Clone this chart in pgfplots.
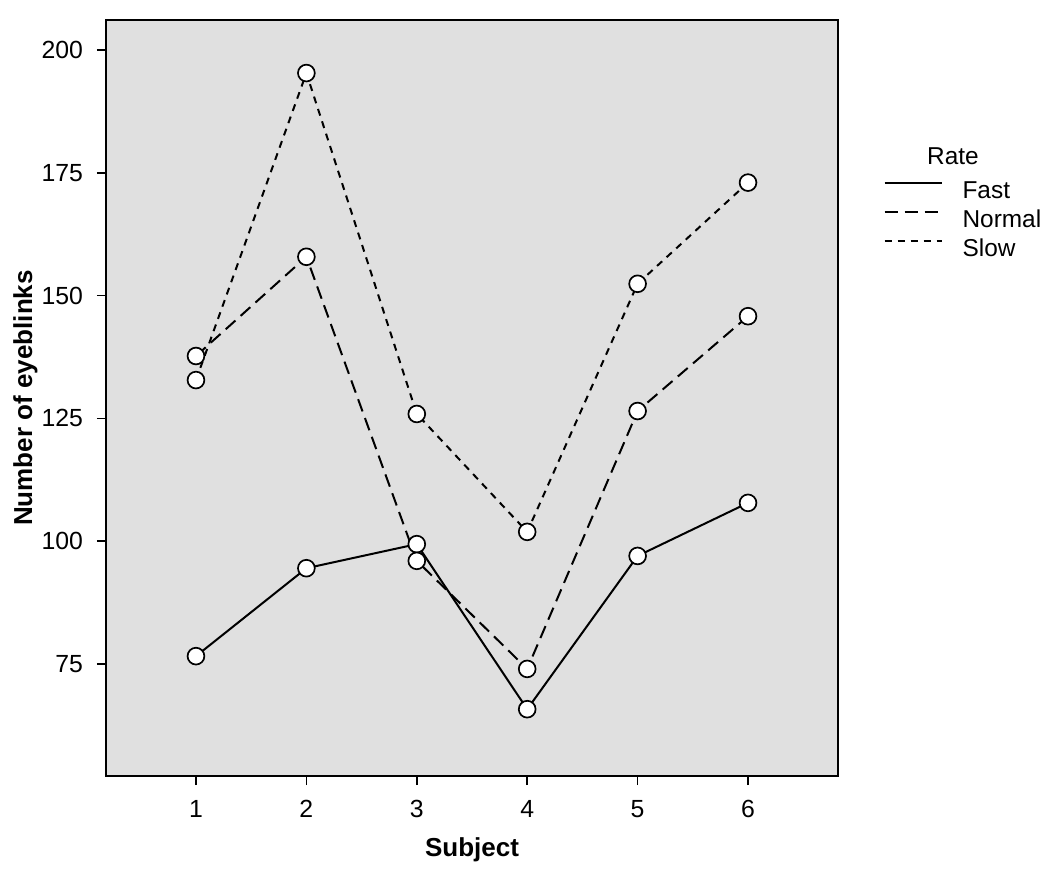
\documentclass[border=0pt]{standalone}
\usepackage{pgfplots}
\pgfplotsset{compat=1.18}
\usepackage{fontspec}
\setmainfont{Liberation Sans}
\definecolor{panel}{RGB}{224,224,224}

\begin{document}
\begin{tikzpicture}
% page = 1050x873 px at 0.5pt per px, axis box lower left at the origin
\useasboundingbox (-53pt,-48.5pt) rectangle (472pt,388pt);
\begin{axis}[
    at={(0,0)}, anchor=south west,
    width=366pt, height=378pt, scale only axis,
    clip=false,
    xmin=0.185, xmax=6.815,
    ymin=52.2, ymax=206.1,
    xtick={1,2,3,4,5,6},
    ytick={75,100,125,150,175,200},
    tick align=outside, xtick pos=bottom, ytick pos=left,
    major tick length=4.5pt,
    tick style={black, line width=0.8pt},
    axis line style={line width=0.8pt},
    axis background/.style={fill=panel},
    ticklabel style={font=\fontsize{12.4}{14}\selectfont},
    xticklabel style={yshift=-4pt},
    yticklabel style={xshift=-3.5pt},
    /pgf/number format/assume math mode=true,
    xlabel={Subject},
    ylabel={Number of eyeblinks},
    label style={font=\fontsize{13}{15}\selectfont\bfseries},
    xlabel style={at={(axis description cs:0.5,-0.0975)}, anchor=center},
    ylabel style={at={(axis description cs:-0.110,0.5)}, anchor=center},
    every axis plot/.append style={black, line width=1pt,
        mark=*, mark size=4.2pt,
        mark options={solid, fill=white, draw=black, line width=0.85pt}},
    legend style={at={(axis description cs:1.062,0.734)}, anchor=west,
        draw=none, fill=none, inner sep=0pt, row sep=3.1pt, column sep=10pt,
        font=\fontsize{12.2}{14}\selectfont,
        nodes={inner sep=0pt, text height=8.8pt, text depth=2.6pt}},
    legend cell align=left,
    legend image code/.code={\draw[#1, line width=0.9pt] (0pt,4.4pt) -- (28.5pt,4.4pt);},
]

\addplot[solid] coordinates {
    (1,76.6) (2,94.5) (3,99.4) (4,65.8) (5,97.0) (6,107.8)
};
\addplot[dash pattern=on 6.5pt off 3.5pt] coordinates {
    (1,137.7) (2,157.9) (3,96.0) (4,74.0) (5,126.5) (6,145.8)
};
\addplot[dash pattern=on 3.5pt off 3pt] coordinates {
    (1,132.8) (2,195.3) (3,125.9) (4,101.9) (5,152.4) (6,173.0)
};
\legend{Fast, Normal, Slow}

\node[font=\fontsize{12.2}{14}\selectfont, anchor=center]
    at (axis description cs:1.157,0.820) {Rate};
\end{axis}
\end{tikzpicture}
\end{document}
